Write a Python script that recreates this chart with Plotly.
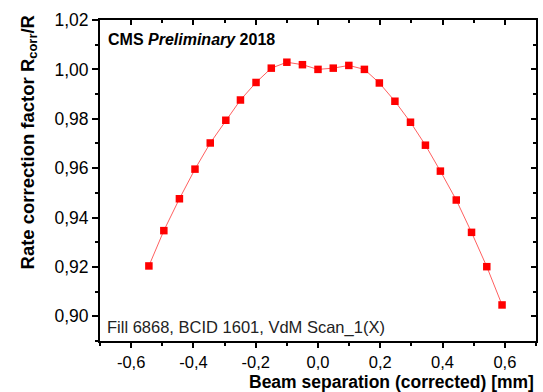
import plotly.graph_objects as go

# Data
sep_mm = [-0.543, -0.495, -0.445, -0.395, -0.346, -0.296, -0.249, -0.199, -0.150, -0.100,
          -0.050, 0.000, 0.049, 0.099, 0.149, 0.197, 0.247, 0.297, 0.345, 0.393,
          0.444, 0.493, 0.542, 0.591]
rate_corr = [0.9204, 0.9347, 0.9476, 0.9596, 0.9702, 0.9794, 0.9876, 0.9947, 1.0005, 1.0029,
             1.0019, 1.0000, 1.0005, 1.0016, 1.0000, 0.9945, 0.9871, 0.9786, 0.9693, 0.9588,
             0.9471, 0.9340, 0.9201, 0.9046]

x_tickvals = [-0.6, -0.4, -0.2, 0.0, 0.2, 0.4, 0.6]
x_ticktext = ["-0,6", "-0,4", "-0,2", "0,0", "0,2", "0,4", "0,6"]
y_tickvals = [0.90, 0.92, 0.94, 0.96, 0.98, 1.00, 1.02]
y_ticktext = ["0,90", "0,92", "0,94", "0,96", "0,98", "1,00", "1,02"]

x_range = [-0.7, 0.7]
y_range = [0.89, 1.02]

FONT = "Liberation Sans, Arial, sans-serif"

fig = go.Figure()
fig.add_trace(go.Scatter(
    x=sep_mm, y=rate_corr, mode="lines+markers",
    line=dict(color="#ff6060", width=1),
    marker=dict(symbol="square", size=7.5, color="#ff0000"),
    showlegend=False,
))
# helper trace to hold the mirrored (top/right) axes
fig.add_trace(go.Scatter(
    x=sep_mm, y=rate_corr, mode="markers", xaxis="x2", yaxis="y2",
    marker=dict(opacity=0), hoverinfo="skip", showlegend=False,
))

axis_common = dict(
    showgrid=False, zeroline=False,
    linecolor="black", linewidth=2,
    tickcolor="black", tickwidth=2,
)

fig.update_layout(
    width=543, height=392,
    margin=dict(l=100, r=5, t=20, b=51),
    paper_bgcolor="white", plot_bgcolor="white",
    xaxis=dict(
        range=x_range, tickvals=x_tickvals, ticktext=x_ticktext,
        ticks="outside", ticklen=5, mirror=True, showline=True,
        tickfont=dict(family=FONT, size=16.5, color="black"),
        minor=dict(ticks="outside", ticklen=3, tickwidth=2, tickcolor="black", dtick=0.1, tick0=0),
        **axis_common,
    ),
    yaxis=dict(
        range=y_range, tickvals=y_tickvals, ticktext=y_ticktext,
        ticks="outside", ticklen=6, mirror=True, showline=True,
        tickfont=dict(family=FONT, size=17.5, color="black"),
        minor=dict(ticks="outside", ticklen=3, tickwidth=2, tickcolor="black", dtick=0.01, tick0=0),
        **axis_common,
    ),
    xaxis2=dict(
        overlaying="x", side="top", range=x_range, tickvals=x_tickvals,
        showticklabels=False, showline=False, ticks="inside", ticklen=5,
        showgrid=False, zeroline=False, tickcolor="black", tickwidth=2,
        minor=dict(ticks="inside", ticklen=3, tickwidth=2, tickcolor="black", dtick=0.1, tick0=0),
    ),
    yaxis2=dict(
        overlaying="y", side="right", range=y_range, tickvals=y_tickvals,
        showticklabels=False, showline=False, ticks="inside", ticklen=5,
        showgrid=False, zeroline=False, tickcolor="black", tickwidth=2,
        minor=dict(ticks="inside", ticklen=3, tickwidth=2, tickcolor="black", dtick=0.01, tick0=0),
    ),
    annotations=[
        dict(text="<b>Rate correction factor R<sub>corr</sub>/R</b>", textangle=-90,
             xref="paper", yref="paper", x=-0.164, y=0.62, xanchor="center", yanchor="middle",
             showarrow=False, font=dict(family=FONT, size=18.5, color="black")),
        dict(text="<b>Beam separation (corrected) [mm]</b>",
             xref="paper", yref="paper", x=1.0, y=-0.1262, xanchor="right", yanchor="middle",
             showarrow=False, font=dict(family=FONT, size=17.5, color="black")),
        dict(text="<b>CMS <i>Preliminary</i> 2018</b>",
             xref="paper", yref="paper", x=0.013, y=0.94, xanchor="left", yanchor="middle",
             showarrow=False, font=dict(family=FONT, size=16, color="black")),
        dict(text="Fill 6868, BCID 1601, VdM Scan_1(X)",
             xref="paper", yref="paper", x=0.011, y=0.043, xanchor="left", yanchor="middle",
             showarrow=False, font=dict(family=FONT, size=16.5, color="#222222")),
    ],
)

fig.write_html("out.html")
